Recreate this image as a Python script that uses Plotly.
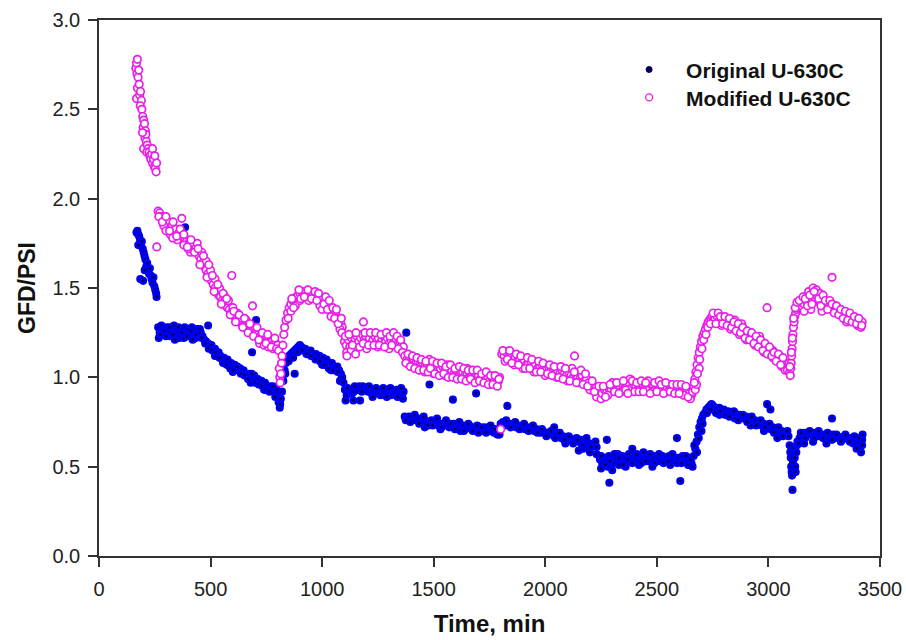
import plotly.graph_objects as go

# ---------------- Original U-630C : [time (min), GFD/PSI] ----------------
orig_seg1 = [[168, 1.81], [172, 1.82], [176, 1.80], [180, 1.79], [184, 1.77], [188, 1.75],
             [192, 1.76], [196, 1.72], [200, 1.70], [204, 1.68], [208, 1.66], [212, 1.62],
             [216, 1.64], [220, 1.60], [224, 1.58], [228, 1.61], [232, 1.57], [236, 1.55],
             [240, 1.53], [244, 1.56], [248, 1.51], [252, 1.49], [256, 1.47], [258, 1.45],
             [185, 1.55], [198, 1.54], [176, 1.74], [205, 1.60]]
orig_seg2 = [[265, 1.28], [272, 1.25], [280, 1.29], [288, 1.27], [296, 1.24], [304, 1.28],
             [312, 1.26], [320, 1.23], [328, 1.27], [336, 1.29], [344, 1.25], [352, 1.26],
             [360, 1.22], [368, 1.27], [376, 1.24], [384, 1.28], [392, 1.25], [400, 1.27],
             [408, 1.23], [416, 1.28], [424, 1.26], [432, 1.22], [440, 1.27], [448, 1.25],
             [268, 1.22], [300, 1.23], [340, 1.21], [380, 1.22], [420, 1.21], [386, 1.84],
             [489, 1.29], [276, 1.24], [292, 1.26], [316, 1.28], [332, 1.24], [356, 1.28],
             [372, 1.25], [396, 1.23], [412, 1.26], [436, 1.24], [452, 1.27]]
orig_seg3 = [[456, 1.25], [464, 1.23], [472, 1.21], [480, 1.20], [488, 1.19], [496, 1.17],
             [504, 1.18], [512, 1.15], [520, 1.16], [528, 1.13], [536, 1.14], [544, 1.12],
             [552, 1.10], [560, 1.11], [568, 1.09], [576, 1.10], [584, 1.07], [592, 1.08],
             [600, 1.06], [608, 1.07], [616, 1.05], [624, 1.04], [632, 1.05], [640, 1.03],
             [648, 1.04], [656, 1.02], [664, 1.01], [672, 1.02], [680, 1.00], [688, 0.99],
             [696, 1.01], [704, 0.98], [712, 0.99], [720, 0.97], [728, 0.98], [736, 0.96],
             [744, 0.97], [752, 0.95], [760, 0.94], [768, 0.95], [776, 0.93], [784, 0.92],
             [792, 0.91], [800, 0.90], [520, 1.12], [600, 1.03], [680, 0.97], [740, 0.93],
             [790, 0.89], [805, 0.86], [810, 0.83], [812, 0.85], [815, 0.88], [704, 1.32],
             [686, 1.14], [460, 1.22], [476, 1.19], [492, 1.16], [508, 1.15], [524, 1.14],
             [540, 1.11], [556, 1.08], [572, 1.07], [588, 1.05], [604, 1.04], [620, 1.06],
             [636, 1.02], [652, 1.01], [668, 0.99], [684, 1.02], [700, 0.97], [716, 0.96],
             [732, 0.95], [748, 0.93], [764, 0.92], [780, 0.95], [796, 0.93]]
orig_seg4 = [[820, 0.92], [826, 0.98], [832, 1.04], [838, 1.08], [845, 1.10], [852, 1.12],
             [860, 1.13], [868, 1.14], [876, 1.15], [884, 1.16], [892, 1.17], [900, 1.18],
             [908, 1.17], [916, 1.16], [924, 1.16], [932, 1.15], [940, 1.14], [948, 1.15],
             [956, 1.13], [964, 1.12], [972, 1.13], [980, 1.11], [988, 1.12], [996, 1.10],
             [1004, 1.11], [1012, 1.09], [1020, 1.10], [1028, 1.08], [1036, 1.07], [1044, 1.08],
             [1052, 1.06], [1060, 1.05], [1068, 1.06], [1076, 1.04], [1084, 1.02], [1090, 1.00],
             [1000, 1.07], [1040, 1.04], [1080, 0.98], [877, 1.02], [835, 1.02], [850, 1.09],
             [870, 1.11], [890, 1.14], [910, 1.15], [930, 1.13], [950, 1.12], [970, 1.10],
             [990, 1.09], [1010, 1.07], [1030, 1.05], [1050, 1.04], [1070, 1.03]]
orig_seg5 = [[1096, 0.97], [1102, 0.93], [1110, 0.90], [1118, 0.92], [1126, 0.93], [1134, 0.91],
             [1142, 0.92], [1150, 0.94], [1158, 0.93], [1166, 0.95], [1174, 0.94], [1182, 0.95],
             [1190, 0.93], [1198, 0.94], [1206, 0.92], [1214, 0.93], [1222, 0.91], [1230, 0.92],
             [1238, 0.93], [1246, 0.91], [1254, 0.92], [1262, 0.90], [1270, 0.92], [1278, 0.91],
             [1286, 0.93], [1294, 0.91], [1302, 0.92], [1310, 0.90], [1318, 0.92], [1326, 0.91],
             [1334, 0.93], [1342, 0.91], [1350, 0.92], [1358, 0.90], [1365, 0.92],
             [1105, 0.87], [1140, 0.87], [1170, 0.87], [1362, 0.88], [1377, 1.25],
             [1114, 0.94], [1146, 0.95], [1178, 0.92], [1210, 0.95], [1242, 0.94], [1274, 0.94],
             [1306, 0.94], [1338, 0.89], [1354, 0.94], [1290, 0.89], [1226, 0.89]]
orig_seg6 = [[1370, 0.78], [1380, 0.77], [1390, 0.78], [1400, 0.76], [1410, 0.77], [1420, 0.76],
             [1430, 0.77], [1440, 0.75], [1450, 0.76], [1460, 0.76], [1470, 0.75], [1480, 0.74],
             [1490, 0.76], [1500, 0.74], [1510, 0.75], [1520, 0.73], [1530, 0.74], [1540, 0.74],
             [1550, 0.73], [1560, 0.74], [1570, 0.72], [1580, 0.73], [1590, 0.74], [1600, 0.72],
             [1610, 0.73], [1620, 0.72], [1630, 0.73], [1640, 0.71], [1650, 0.72], [1660, 0.73],
             [1670, 0.71], [1680, 0.72], [1690, 0.71], [1700, 0.72], [1710, 0.70], [1720, 0.71],
             [1730, 0.72], [1740, 0.70], [1750, 0.71], [1760, 0.70], [1770, 0.69], [1780, 0.70],
             [1790, 0.68], [1460, 0.72], [1530, 0.71], [1620, 0.70], [1700, 0.69],
             [1481, 0.96], [1586, 0.875], [1690, 0.91], [1830, 0.84],
             [1375, 0.76], [1395, 0.75], [1415, 0.79], [1435, 0.74], [1455, 0.78], [1475, 0.73],
             [1495, 0.73], [1515, 0.77], [1535, 0.72], [1555, 0.76], [1575, 0.74], [1595, 0.71],
             [1615, 0.75], [1635, 0.70], [1655, 0.74], [1675, 0.70], [1695, 0.73], [1715, 0.72],
             [1735, 0.69], [1755, 0.73], [1775, 0.71], [1785, 0.68]]
orig_seg7 = [[1800, 0.74], [1810, 0.75], [1820, 0.74], [1830, 0.73], [1840, 0.74], [1850, 0.73],
             [1860, 0.74], [1870, 0.72], [1880, 0.73], [1890, 0.72], [1900, 0.73], [1910, 0.71],
             [1920, 0.72], [1930, 0.71], [1940, 0.72], [1950, 0.70], [1960, 0.71], [1970, 0.70],
             [1980, 0.69], [1990, 0.70], [2000, 0.69], [2010, 0.68], [2020, 0.69], [2030, 0.68],
             [2040, 0.67], [2050, 0.68], [2060, 0.67], [2070, 0.66], [2080, 0.67], [2090, 0.66],
             [2100, 0.65], [2110, 0.66], [2120, 0.65], [2130, 0.64], [2140, 0.66], [2150, 0.64],
             [2160, 0.65], [2170, 0.63], [2180, 0.64], [2190, 0.62], [2200, 0.63], [2210, 0.62],
             [2220, 0.63], [2230, 0.61], [2150, 0.59], [2170, 0.60], [2200, 0.58], [2230, 0.57],
             [1795, 0.68], [2040, 0.72], [2090, 0.63],
             [1805, 0.72], [1825, 0.76], [1845, 0.72], [1865, 0.75], [1885, 0.71], [1905, 0.74],
             [1925, 0.70], [1945, 0.73], [1965, 0.69], [1985, 0.71], [2005, 0.67], [2025, 0.70],
             [2045, 0.66], [2065, 0.69], [2085, 0.65], [2105, 0.67], [2125, 0.63], [2145, 0.65],
             [2165, 0.62], [2185, 0.66], [2205, 0.61], [2225, 0.64]]
orig_seg8 = [[2245, 0.54], [2255, 0.52], [2265, 0.55], [2275, 0.53], [2285, 0.56], [2295, 0.54],
             [2305, 0.52], [2315, 0.55], [2325, 0.57], [2335, 0.54], [2345, 0.56], [2355, 0.53],
             [2365, 0.55], [2375, 0.57], [2385, 0.54], [2395, 0.56], [2405, 0.55], [2415, 0.53],
             [2425, 0.56], [2435, 0.54], [2445, 0.57], [2455, 0.55], [2465, 0.53], [2475, 0.56],
             [2485, 0.54], [2495, 0.56], [2505, 0.55], [2515, 0.53], [2525, 0.56], [2535, 0.54],
             [2545, 0.55], [2555, 0.56], [2565, 0.54], [2575, 0.55], [2585, 0.53], [2595, 0.55],
             [2605, 0.54], [2615, 0.56], [2625, 0.54], [2635, 0.53], [2645, 0.55], [2655, 0.52],
             [2250, 0.49], [2280, 0.50], [2300, 0.48], [2330, 0.51], [2360, 0.50], [2420, 0.51],
             [2480, 0.50], [2560, 0.51], [2640, 0.51], [2660, 0.50], [2390, 0.60], [2440, 0.58],
             [2276, 0.65], [2287, 0.41], [2590, 0.66], [2605, 0.42],
             [2250, 0.56], [2270, 0.51], [2290, 0.53], [2310, 0.57], [2330, 0.55], [2350, 0.51],
             [2370, 0.54], [2390, 0.52], [2410, 0.57], [2430, 0.52], [2450, 0.53], [2470, 0.57],
             [2490, 0.52], [2510, 0.57], [2530, 0.52], [2550, 0.53], [2570, 0.57], [2590, 0.52],
             [2610, 0.52], [2630, 0.56], [2650, 0.54]]
orig_seg9 = [[2665, 0.56], [2672, 0.60], [2678, 0.64], [2684, 0.68], [2690, 0.72], [2696, 0.75],
             [2702, 0.77], [2708, 0.79], [2715, 0.80], [2722, 0.82], [2730, 0.83], [2738, 0.84],
             [2745, 0.85], [2752, 0.84], [2680, 0.58], [2700, 0.70],
             [2760, 0.83], [2770, 0.82], [2780, 0.83], [2790, 0.81], [2800, 0.82], [2810, 0.80],
             [2820, 0.81], [2830, 0.80], [2840, 0.79], [2850, 0.80], [2860, 0.78], [2870, 0.79],
             [2880, 0.78], [2890, 0.77], [2900, 0.78], [2910, 0.76], [2920, 0.77], [2930, 0.75],
             [2940, 0.76], [2950, 0.74], [2960, 0.75], [2970, 0.73], [2980, 0.74], [2990, 0.72],
             [3000, 0.73], [3010, 0.71], [3020, 0.72], [3030, 0.70], [3040, 0.71], [3050, 0.69],
             [3060, 0.70], [3070, 0.68], [3080, 0.69], [3090, 0.67], [2780, 0.79], [2850, 0.77],
             [2920, 0.73], [2980, 0.70], [3040, 0.66], [2994, 0.85], [3009, 0.82],
             [2668, 0.62], [2688, 0.66], [2705, 0.74], [2725, 0.80], [2742, 0.82], [2765, 0.80],
             [2785, 0.81], [2805, 0.79], [2825, 0.78], [2845, 0.81], [2865, 0.76], [2885, 0.79],
             [2905, 0.75], [2925, 0.78], [2945, 0.73], [2965, 0.76], [2985, 0.72], [3005, 0.74],
             [3025, 0.69], [3045, 0.72], [3065, 0.67], [3085, 0.70]]
orig_seg10 = [[3095, 0.62], [3098, 0.58], [3100, 0.55], [3102, 0.50], [3104, 0.47], [3106, 0.45],
              [3108, 0.37], [3110, 0.52], [3112, 0.57], [3115, 0.60], [3118, 0.55], [3120, 0.50],
              [3122, 0.47], [3125, 0.58], [3128, 0.62], [3130, 0.64],
              [3140, 0.66], [3150, 0.68], [3160, 0.69], [3170, 0.68], [3180, 0.69], [3190, 0.68],
              [3200, 0.67], [3210, 0.69], [3220, 0.68], [3230, 0.67], [3240, 0.68], [3250, 0.67],
              [3260, 0.68], [3270, 0.66], [3280, 0.67], [3290, 0.68], [3300, 0.66], [3310, 0.67],
              [3320, 0.66], [3330, 0.65], [3340, 0.67], [3350, 0.66], [3360, 0.65], [3370, 0.66],
              [3380, 0.65], [3390, 0.66], [3400, 0.64], [3410, 0.66], [3420, 0.65],
              [3160, 0.63], [3200, 0.64], [3260, 0.63], [3380, 0.63], [3395, 0.60], [3420, 0.62],
              [3415, 0.58], [3422, 0.68], [3285, 0.77],
              [3135, 0.63], [3145, 0.69], [3165, 0.66], [3185, 0.70], [3205, 0.66], [3225, 0.70],
              [3245, 0.66], [3265, 0.69], [3285, 0.65], [3305, 0.68], [3325, 0.64], [3345, 0.68],
              [3365, 0.64], [3385, 0.67], [3405, 0.66]]

# ---------------- Modified U-630C : [time (min), GFD/PSI] ----------------
mod_seg1 = [[165, 2.73], [168, 2.76], [172, 2.78], [170, 2.70], [175, 2.68], [178, 2.72],
            [172, 2.62], [180, 2.64], [168, 2.56], [182, 2.58], [186, 2.60], [190, 2.55],
            [185, 2.52], [192, 2.50], [196, 2.46], [200, 2.44], [198, 2.40], [204, 2.42],
            [208, 2.38], [206, 2.34], [210, 2.36], [195, 2.37], [200, 2.28], [212, 2.32],
            [216, 2.30], [220, 2.28], [214, 2.26], [224, 2.26], [228, 2.24], [232, 2.22],
            [236, 2.25], [240, 2.20], [244, 2.22], [248, 2.18], [252, 2.17], [256, 2.15],
            [258, 2.20], [240, 2.28], [250, 2.24]]
mod_seg2 = [[265, 1.93], [272, 1.92], [280, 1.90], [288, 1.89], [296, 1.88], [304, 1.86],
            [312, 1.87], [320, 1.84], [328, 1.85], [336, 1.82], [344, 1.83], [352, 1.80],
            [360, 1.81], [368, 1.79], [376, 1.77], [384, 1.78], [392, 1.76], [400, 1.75],
            [408, 1.76], [416, 1.73], [424, 1.74], [432, 1.72], [440, 1.70], [448, 1.68],
            [456, 1.66], [464, 1.64], [472, 1.62], [480, 1.60], [488, 1.58], [496, 1.56],
            [504, 1.54], [512, 1.52], [520, 1.50], [528, 1.48], [536, 1.46], [544, 1.45],
            [552, 1.43], [560, 1.42], [568, 1.40], [576, 1.39], [584, 1.38], [592, 1.36],
            [600, 1.35], [608, 1.34], [616, 1.33], [624, 1.32], [632, 1.31], [640, 1.30],
            [648, 1.30], [656, 1.29], [664, 1.28], [672, 1.27], [680, 1.27], [688, 1.26],
            [696, 1.25], [704, 1.25], [712, 1.24], [720, 1.23], [728, 1.23], [736, 1.22],
            [744, 1.22], [752, 1.21], [760, 1.21], [768, 1.20], [776, 1.20], [784, 1.19],
            [792, 1.19], [800, 1.18],
            [290, 1.85], [320, 1.80], [350, 1.77], [380, 1.74], [410, 1.70], [440, 1.75],
            [460, 1.70], [480, 1.65], [500, 1.60], [520, 1.55], [540, 1.50], [560, 1.46],
            [580, 1.43], [600, 1.39], [620, 1.36], [640, 1.33], [660, 1.32], [700, 1.28],
            [720, 1.19], [740, 1.18], [760, 1.17], [780, 1.16], [300, 1.82], [400, 1.72],
            [330, 1.78], [259, 1.73], [371, 1.89], [595, 1.57], [688, 1.40],
            [268, 1.90], [284, 1.87], [300, 1.90], [316, 1.82], [332, 1.87], [348, 1.79],
            [364, 1.83], [380, 1.80], [396, 1.73], [412, 1.77], [428, 1.70], [444, 1.72],
            [452, 1.63], [468, 1.68], [484, 1.56], [492, 1.63], [508, 1.57], [516, 1.48],
            [532, 1.52], [548, 1.41], [556, 1.47], [572, 1.44], [588, 1.35], [604, 1.37],
            [612, 1.31], [628, 1.35], [644, 1.28], [652, 1.33], [668, 1.25], [676, 1.30],
            [692, 1.23], [708, 1.28], [716, 1.21], [732, 1.25], [748, 1.19], [756, 1.24],
            [772, 1.17], [788, 1.22], [796, 1.16]]
mod_seg3 = [[805, 1.15], [808, 1.05], [810, 1.00], [812, 0.97], [815, 1.02], [818, 1.08],
            [820, 1.12], [824, 1.18], [828, 1.24], [832, 1.28], [838, 1.32], [845, 1.36],
            [852, 1.39], [860, 1.41], [868, 1.43], [876, 1.44], [884, 1.45], [892, 1.46],
            [900, 1.47], [908, 1.48], [916, 1.47], [924, 1.48], [932, 1.46], [940, 1.47],
            [948, 1.46], [956, 1.47], [964, 1.45], [972, 1.46], [980, 1.44], [988, 1.45],
            [996, 1.43], [1004, 1.44], [1012, 1.42], [1020, 1.40], [1028, 1.41], [1036, 1.38],
            [1044, 1.37], [1052, 1.35], [1060, 1.36], [1068, 1.33], [1076, 1.32], [1084, 1.30],
            [1090, 1.28], [860, 1.37], [880, 1.40], [900, 1.43], [940, 1.43], [990, 1.40],
            [1040, 1.34], [1080, 1.27], [1088, 1.25], [1000, 1.38],
            [848, 1.33], [864, 1.44], [872, 1.39], [896, 1.49], [904, 1.44], [920, 1.45],
            [936, 1.49], [952, 1.44], [968, 1.48], [976, 1.43], [984, 1.47], [1008, 1.41],
            [1016, 1.45], [1024, 1.38], [1032, 1.43], [1048, 1.39], [1056, 1.33], [1064, 1.38],
            [1072, 1.30], [1086, 1.33]]
mod_seg4 = [[1100, 1.20], [1108, 1.18], [1116, 1.21], [1124, 1.17], [1132, 1.22], [1140, 1.19],
            [1148, 1.21], [1156, 1.23], [1164, 1.20], [1172, 1.22], [1180, 1.24], [1188, 1.21],
            [1196, 1.23], [1204, 1.20], [1212, 1.22], [1220, 1.19], [1228, 1.21], [1236, 1.23],
            [1244, 1.20], [1252, 1.22], [1260, 1.19], [1268, 1.21], [1276, 1.23], [1284, 1.20],
            [1292, 1.22], [1300, 1.19], [1308, 1.21], [1316, 1.23], [1324, 1.20], [1332, 1.21],
            [1340, 1.19], [1348, 1.20], [1356, 1.18], [1364, 1.17],
            [1110, 1.14], [1130, 1.15], [1150, 1.13], [1200, 1.16], [1250, 1.17], [1300, 1.16],
            [1340, 1.16], [1111, 1.12], [1185, 1.31],
            [1104, 1.23], [1120, 1.24], [1136, 1.18], [1152, 1.25], [1168, 1.17], [1184, 1.19],
            [1192, 1.25], [1208, 1.18], [1216, 1.25], [1232, 1.18], [1240, 1.25], [1256, 1.18],
            [1264, 1.24], [1280, 1.17], [1288, 1.25], [1304, 1.23], [1312, 1.18], [1320, 1.25],
            [1336, 1.23], [1352, 1.21], [1360, 1.14]]
mod_seg5 = [[1370, 1.12], [1380, 1.10], [1390, 1.11], [1400, 1.09], [1410, 1.10], [1420, 1.08],
            [1430, 1.09], [1440, 1.07], [1450, 1.08], [1460, 1.06], [1470, 1.07], [1480, 1.08],
            [1490, 1.06], [1500, 1.05], [1510, 1.06], [1520, 1.04], [1530, 1.05], [1540, 1.06],
            [1550, 1.04], [1560, 1.03], [1570, 1.05], [1580, 1.04], [1590, 1.02], [1600, 1.03],
            [1610, 1.04], [1620, 1.02], [1630, 1.03], [1640, 1.01], [1650, 1.02], [1660, 1.03],
            [1670, 1.01], [1680, 1.00], [1690, 1.02], [1700, 1.01], [1710, 0.99], [1720, 1.00],
            [1730, 1.01], [1740, 0.99], [1750, 0.98], [1760, 1.00], [1770, 0.99], [1780, 0.97],
            [1790, 0.98], [1795, 1.00],
            [1390, 1.07], [1420, 1.05], [1460, 1.03], [1500, 1.02], [1550, 1.01], [1600, 1.00],
            [1650, 0.99], [1700, 0.98], [1750, 0.96], [1480, 1.10], [1560, 1.07], [1650, 1.05],
            [1800, 0.71],
            [1375, 1.08], [1385, 1.13], [1395, 1.06], [1405, 1.12], [1415, 1.05], [1425, 1.11],
            [1435, 1.04], [1445, 1.10], [1455, 1.04], [1465, 1.09], [1475, 1.03], [1485, 1.05],
            [1495, 1.09], [1505, 1.02], [1515, 1.08], [1525, 1.01], [1535, 1.08], [1545, 1.02],
            [1555, 1.06], [1565, 1.00], [1575, 1.07], [1585, 1.00], [1595, 1.05], [1605, 0.99],
            [1615, 1.06], [1625, 0.99], [1635, 1.05], [1645, 0.98], [1655, 1.04], [1665, 0.99],
            [1675, 1.04], [1685, 0.97], [1695, 1.04], [1705, 0.98], [1715, 1.02], [1725, 0.97],
            [1735, 1.03], [1745, 0.96], [1755, 1.01], [1765, 0.96], [1775, 1.01], [1785, 0.95],
            [1792, 0.99]]
mod_seg6 = [[1805, 1.13], [1815, 1.12], [1825, 1.14], [1835, 1.11], [1845, 1.12], [1855, 1.10],
            [1865, 1.11], [1875, 1.09], [1885, 1.10], [1895, 1.08], [1905, 1.09], [1915, 1.07],
            [1925, 1.08], [1935, 1.09], [1945, 1.06], [1955, 1.07], [1965, 1.05], [1975, 1.06],
            [1985, 1.07], [1995, 1.05], [2005, 1.04], [2015, 1.06], [2025, 1.04], [2035, 1.03],
            [2045, 1.05], [2055, 1.03], [2065, 1.02], [2075, 1.04], [2085, 1.02], [2095, 1.01],
            [2105, 1.03], [2115, 1.01], [2125, 1.00], [2135, 1.02], [2145, 1.00], [2155, 0.99],
            [2165, 1.01], [2175, 0.98], [2185, 0.99], [2195, 0.97], [2205, 0.96], [2215, 0.95],
            [2225, 0.94], [2235, 0.92], [2245, 0.90],
            [1820, 1.09], [1860, 1.07], [1900, 1.05], [1950, 1.03], [2000, 1.01], [2050, 1.00],
            [2100, 0.98], [2150, 0.97], [2200, 0.93], [2120, 1.05], [2160, 1.04], [2230, 0.89],
            [2250, 0.88], [2131, 1.12],
            [1810, 1.15], [1830, 1.10], [1840, 1.15], [1850, 1.08], [1870, 1.13], [1880, 1.07],
            [1890, 1.12], [1910, 1.05], [1920, 1.11], [1930, 1.05], [1940, 1.10], [1960, 1.03],
            [1970, 1.09], [1980, 1.03], [1990, 1.08], [2010, 1.02], [2020, 1.07], [2030, 1.01],
            [2040, 1.06], [2060, 1.00], [2070, 1.06], [2080, 0.99], [2090, 1.05], [2110, 0.98],
            [2130, 1.03], [2140, 0.97], [2170, 0.96], [2180, 1.02], [2190, 0.95], [2210, 0.98],
            [2220, 0.92], [2240, 0.95]]
mod_seg7 = [[2255, 0.91], [2265, 0.93], [2275, 0.92], [2285, 0.94], [2295, 0.93], [2305, 0.95],
            [2315, 0.94], [2325, 0.93], [2335, 0.95], [2345, 0.96], [2355, 0.94], [2365, 0.95],
            [2375, 0.97], [2385, 0.94], [2395, 0.96], [2405, 0.95], [2415, 0.93], [2425, 0.95],
            [2435, 0.96], [2445, 0.94], [2455, 0.95], [2465, 0.93], [2475, 0.96], [2485, 0.95],
            [2495, 0.94], [2505, 0.96], [2515, 0.95], [2525, 0.93], [2535, 0.95], [2545, 0.94],
            [2555, 0.96], [2565, 0.94], [2575, 0.93], [2585, 0.95], [2595, 0.94], [2605, 0.93],
            [2615, 0.94], [2625, 0.92], [2635, 0.93], [2645, 0.91], [2655, 0.90],
            [2280, 0.90], [2340, 0.92], [2400, 0.92], [2480, 0.92], [2550, 0.92], [2620, 0.90],
            [2380, 0.99], [2460, 0.98], [2300, 0.97], [2650, 0.88],
            [2260, 0.95], [2270, 0.89], [2290, 0.96], [2310, 0.92], [2320, 0.97], [2330, 0.91],
            [2350, 0.98], [2360, 0.93], [2370, 0.91], [2390, 0.98], [2410, 0.97], [2420, 0.92],
            [2430, 0.98], [2440, 0.92], [2450, 0.97], [2470, 0.91], [2490, 0.97], [2500, 0.92],
            [2510, 0.98], [2520, 0.96], [2530, 0.91], [2540, 0.97], [2560, 0.92], [2570, 0.96],
            [2580, 0.91], [2590, 0.96], [2600, 0.91], [2610, 0.96], [2630, 0.95], [2640, 0.89],
            [2660, 0.92]]
mod_seg8 = [[2665, 0.95], [2670, 0.99], [2675, 1.03], [2680, 1.07], [2685, 1.11], [2690, 1.14],
            [2695, 1.17], [2700, 1.20], [2706, 1.23], [2712, 1.25], [2718, 1.27], [2724, 1.29],
            [2730, 1.31], [2736, 1.32], [2742, 1.33], [2748, 1.34], [2755, 1.33],
            [2672, 0.93], [2678, 0.96], [2690, 1.05],
            [2760, 1.33], [2770, 1.34], [2780, 1.32], [2790, 1.33], [2800, 1.31], [2810, 1.32],
            [2820, 1.30], [2830, 1.31], [2840, 1.29], [2850, 1.28], [2860, 1.29], [2870, 1.27],
            [2880, 1.26], [2890, 1.25], [2900, 1.24], [2910, 1.23], [2920, 1.24], [2930, 1.22],
            [2940, 1.21], [2950, 1.20], [2960, 1.19], [2970, 1.18], [2980, 1.17], [2990, 1.16],
            [3000, 1.15], [3010, 1.14], [3020, 1.15], [3030, 1.12], [3040, 1.11], [3050, 1.10],
            [3060, 1.09], [3070, 1.08], [3080, 1.07], [3090, 1.06],
            [2790, 1.29], [2830, 1.27], [2870, 1.24], [2900, 1.21], [2940, 1.18], [2980, 1.14],
            [3020, 1.11], [3060, 1.06], [3075, 1.04], [2850, 1.32], [2880, 1.30], [2960, 1.23],
            [2994, 1.39],
            [2668, 0.97], [2682, 1.02], [2692, 1.10], [2702, 1.16], [2710, 1.21], [2720, 1.24],
            [2728, 1.28], [2740, 1.30], [2752, 1.36], [2765, 1.30], [2775, 1.36], [2785, 1.34],
            [2795, 1.30], [2805, 1.34], [2815, 1.29], [2825, 1.33], [2835, 1.28], [2845, 1.31],
            [2855, 1.26], [2865, 1.30], [2875, 1.25], [2885, 1.28], [2895, 1.22], [2905, 1.26],
            [2915, 1.21], [2925, 1.25], [2935, 1.19], [2945, 1.23], [2955, 1.17], [2965, 1.21],
            [2975, 1.15], [2985, 1.19], [2995, 1.13], [3005, 1.17], [3015, 1.12], [3025, 1.14],
            [3035, 1.09], [3045, 1.13], [3055, 1.07], [3065, 1.11], [3085, 1.04], [3092, 1.08]]
mod_seg9 = [[3095, 1.03], [3098, 1.01], [3100, 1.05], [3102, 1.08], [3104, 1.12], [3106, 1.16],
            [3108, 1.20], [3110, 1.24], [3112, 1.28], [3115, 1.31], [3118, 1.34], [3122, 1.36],
            [3126, 1.38], [3130, 1.39], [3135, 1.40], [3140, 1.41],
            [3145, 1.40], [3150, 1.42], [3160, 1.41], [3170, 1.43], [3180, 1.42], [3190, 1.44],
            [3200, 1.46], [3210, 1.43], [3220, 1.45], [3230, 1.42], [3240, 1.44], [3250, 1.41],
            [3260, 1.40], [3270, 1.41], [3280, 1.39], [3290, 1.38], [3300, 1.37], [3310, 1.38],
            [3320, 1.36], [3330, 1.35], [3340, 1.36], [3350, 1.34], [3360, 1.33], [3370, 1.34],
            [3380, 1.32], [3390, 1.31], [3400, 1.32], [3410, 1.30], [3420, 1.31],
            [3180, 1.48], [3200, 1.50], [3215, 1.49], [3230, 1.47], [3190, 1.38], [3240, 1.37],
            [3300, 1.40], [3350, 1.31], [3400, 1.29], [3415, 1.28], [3160, 1.37], [3285, 1.56],
            [3096, 1.06], [3103, 1.14], [3107, 1.22], [3113, 1.33], [3120, 1.39], [3128, 1.42],
            [3138, 1.43], [3155, 1.45], [3165, 1.44], [3175, 1.40], [3185, 1.46], [3195, 1.41],
            [3205, 1.48], [3225, 1.44], [3235, 1.40], [3245, 1.46], [3255, 1.43], [3265, 1.38],
            [3275, 1.43], [3285, 1.41], [3295, 1.36], [3305, 1.40], [3315, 1.35], [3325, 1.38],
            [3335, 1.33], [3345, 1.37], [3355, 1.32], [3365, 1.36], [3375, 1.31], [3385, 1.34],
            [3395, 1.30], [3405, 1.33], [3418, 1.29]]

x_ticks = [0, 500, 1000, 1500, 2000, 2500, 3000, 3500]
y_ticks = [0.0, 0.5, 1.0, 1.5, 2.0, 2.5, 3.0]
y_tick_text = ["0.0", "0.5", "1.0", "1.5", "2.0", "2.5", "3.0"]

orig_points = (orig_seg1 + orig_seg2 + orig_seg3 + orig_seg4 + orig_seg5 + orig_seg6
               + orig_seg7 + orig_seg8 + orig_seg9 + orig_seg10)
mod_points = (mod_seg1 + mod_seg2 + mod_seg3 + mod_seg4 + mod_seg5 + mod_seg6
              + mod_seg7 + mod_seg8 + mod_seg9)

FONT = "Liberation Sans, Arial, sans-serif"
NAVY = "#000050"
BLUE = "#0000f0"
MAGENTA = "#e81ee8"

fig = go.Figure()

fig.add_trace(go.Scatter(
    x=[p[0] for p in orig_points], y=[p[1] for p in orig_points],
    mode="markers", showlegend=False,
    marker=dict(symbol="circle", size=5.5, color=NAVY, line=dict(color=BLUE, width=2.6)),
))
fig.add_trace(go.Scatter(
    x=[p[0] for p in mod_points], y=[p[1] for p in mod_points],
    mode="markers", showlegend=False,
    marker=dict(symbol="circle", size=7.5, color="white", line=dict(color=MAGENTA, width=1.7)),
))

# Legend entries (each in its own legend box so rows can be placed freely)
fig.add_trace(go.Scatter(
    x=[None], y=[None], mode="markers", name="<b>Original U-630C</b>", legend="legend",
    marker=dict(symbol="circle", size=6, color=NAVY, line=dict(color=NAVY, width=1)),
))
fig.add_trace(go.Scatter(
    x=[None], y=[None], mode="markers", name="<b>Modified U-630C</b>", legend="legend2",
    marker=dict(symbol="circle-open", size=7, color=MAGENTA, line=dict(width=1.3)),
))

legend_style = dict(
    font=dict(family=FONT, size=21, color="#111111"),
    bgcolor="rgba(0,0,0,0)", borderwidth=0, itemwidth=64,
    xanchor="left", yanchor="middle", x=0.657,
)

fig.update_layout(
    width=906, height=640,
    margin=dict(l=99, r=26, t=20, b=84),
    paper_bgcolor="white", plot_bgcolor="white",
    font=dict(family=FONT, color="#222222"),
    legend=dict(**legend_style, y=0.907),
    legend2=dict(**legend_style, y=0.855),
    xaxis=dict(
        range=[0, 3500], tickmode="array", tickvals=x_ticks, automargin=False,
        ticks="outside", ticklen=9, tickwidth=1.5, tickcolor="#333333",
        showline=True, linecolor="#333333", linewidth=1.5, mirror=True,
        showgrid=False, zeroline=False, ticklabelstandoff=5,
        tickfont=dict(family=FONT, size=20, color="#222222"),
        title=dict(text="<b>Time, min</b>", font=dict(family=FONT, size=24, color="#111111"),
                   standoff=16),
    ),
    yaxis=dict(
        range=[0, 3.0], tickmode="array", tickvals=y_ticks, ticktext=y_tick_text,
        automargin=False,
        ticks="outside", ticklen=9, tickwidth=1.5, tickcolor="#333333",
        showline=True, linecolor="#333333", linewidth=1.5, mirror=True,
        showgrid=False, zeroline=False, ticklabelstandoff=4,
        tickfont=dict(family=FONT, size=20, color="#222222"),
        title=dict(text="<b>GFD/PSI</b>", font=dict(family=FONT, size=23, color="#111111"),
                   standoff=10),
    ),
)

fig.write_html("out.html")
